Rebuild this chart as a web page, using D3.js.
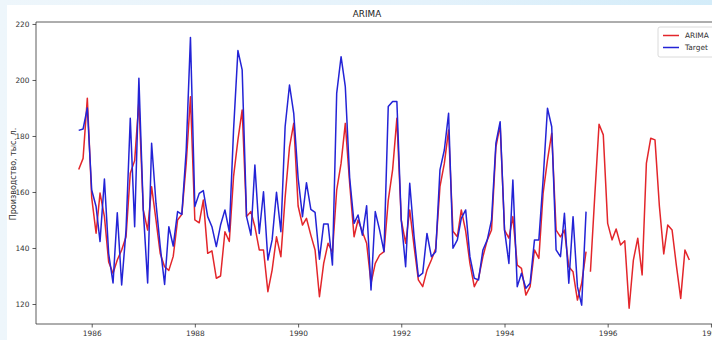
<!DOCTYPE html>
<html>
<head>
<meta charset="utf-8">
<script src="https://cdn.jsdelivr.net/npm/d3@7"></script>
<style>
  html, body { margin: 0; padding: 0; }
  body { width: 712px; height: 340px; overflow: hidden; background: linear-gradient(to right, #eef6fb 0%, #e4f2fb 60%, #d3ecf9 100%); }
  svg { display: block; }
</style>
</head>
<body>
<svg id="chart" width="712" height="340"></svg>
<script>
// ---- data (monthly, first month = Oct 1985) ----
const titleText = "ARIMA";
const yLabel = "Производство, тыс. л.";
const seriesNames = ["ARIMA", "Target"];
const fitStart = [1985, 9];      // year, month index (0 = Jan)
const forecastStart = [1995, 8];
const targetValues = [
  182, 182.5, 190,
  160.7, 154.8, 142.3, 164.6, 138, 127.5, 152.6, 126.8, 146.4, 186.3, 147.6, 200.6,
  153.6, 127.5, 177.4, 156, 140.5, 127, 147.6, 140.7, 153, 152, 175, 215.2,
  154.8, 159.5, 160.5, 151.2, 147.6, 140.5, 148.2, 153.6, 145.8, 182.1, 210.5, 203.6,
  151.2, 144.6, 169.6, 145.2, 160.1, 135.7, 142.9, 159.9, 145.8, 183.3, 198.2, 188.1,
  165, 151.2, 163.3, 153.8, 152.7, 136, 148.6, 148.6, 133.9, 195.2, 208.3, 197.6,
  165, 148.8, 151.8, 144.6, 155.1, 125, 153, 146.4, 138.7, 190.5, 192.3, 192.3,
  150, 133.3, 163.1, 144, 129.8, 131, 145.2, 136.9, 138.7, 167.9, 175, 188.1,
  139.9, 142.9, 150.6, 153.6, 136.9, 129.2, 128.6, 139.3, 142.9, 150, 177.4, 185.1,
  146.4, 134.5, 164.3, 126.2, 131, 125.6, 127.4, 142.9, 142.9, 164.3, 189.9, 183.3,
  139.3, 136.9, 152.4, 127.4, 151.2, 126.2, 119.6, 153
];
const arimaFitValues = [
  168, 172, 193.5,
  158, 145.3, 159.6, 151.2, 135, 131, 135.7, 139.3, 144, 166.7, 171.2, 192.3,
  153.6, 146.4, 161.9, 150, 138, 133.3, 132, 137, 150, 152, 170.2, 194,
  150, 149, 157.1, 138.1, 139, 129.2, 130, 145.8, 142.3, 165.5, 178.6, 189.3,
  151.2, 153, 147.6, 139.3, 139.3, 124.4, 132.1, 144, 136.9, 158, 176, 184.5,
  155, 148.2, 150.6, 144.6, 139.3, 122.6, 134.5, 141.7, 138.4, 160.7, 170.2, 184.5,
  163, 144, 150, 145.8, 141.7, 127.4, 134.5, 137.5, 138.7, 157, 168, 186.3,
  150, 141.7, 153.6, 140.5, 128.6, 126.2, 132.1, 135.7, 139.8, 161.9, 170.2, 182.1,
  146, 144, 153.6, 146, 134.5, 126.2, 129.2, 136.9, 142.9, 146.4, 176, 184,
  146.4, 143.5, 151.2, 133.9, 132.7, 123.2, 126.2, 139.3, 136.3, 159.5, 171.4, 181,
  146.4, 144, 146.4, 133.3, 131.5, 121.4, 127.4, 138.7
];
const arimaForecastValues = [
  131.5, 158, 184.2, 180.4,
  148.8, 142.9, 146.8, 141.1, 142.6, 118.5, 135.7, 143.5, 130.4, 170.2, 179.2, 178.6,
  155, 137.9, 148.2, 146.4, 133.9, 122, 139.3, 135.7
];
const xTickYears = [1986, 1988, 1990, 1992, 1994, 1996, 1998];
const yTicks = [120, 140, 160, 180, 200, 220];
const xDomainYears = [1984.92, 1998.42];
const yDomain = [112.86, 220.7];

(function () {
  function toSeries(start, values) {
    return values.map((v, i) => ({ date: new Date(start[0], start[1] + i, 1), value: v }));
  }
  function yearFrac(yv) {
    const whole = Math.floor(yv);
    const d0 = new Date(whole, 0, 1), d1 = new Date(whole + 1, 0, 1);
    return new Date(d0.getTime() + (yv - whole) * (d1 - d0));
  }
  const target = toSeries(fitStart, targetValues);
  const arimaFit = toSeries(fitStart, arimaFitValues);
  const arimaFc = toSeries(forecastStart, arimaForecastValues);

  const svg = d3.select("#chart");
  const pL = 36, pT = 22, pB = 324, pR = 732.6;
  const colRed = "#e3262b", colBlue = "#2323d6";
  const font = "DejaVu Sans, sans-serif";

  svg.append("rect").attr("x", 7).attr("y", 5).attr("width", 705).attr("height", 335).attr("fill", "#ffffff");

  const x = d3.scaleTime().domain(xDomainYears.map(yearFrac)).range([pL, pR]);
  const y = d3.scaleLinear().domain(yDomain).range([pB, pT]);
  const line = d3.line().x(d => x(d.date)).y(d => y(d.value));

  const plot = svg.append("g");
  [[arimaFit, colRed], [target, colBlue], [arimaFc, colRed]].forEach(([data, c]) => {
    plot.append("path").datum(data).attr("d", line).attr("fill", "none")
      .attr("stroke", c).attr("stroke-width", 1.5).attr("stroke-linejoin", "round");
  });

  const xAxis = d3.axisBottom(x).tickValues(xTickYears.map(yr => new Date(yr, 0, 1)))
    .tickFormat(d3.timeFormat("%Y")).tickSize(3.5).tickPadding(3);
  const gx = svg.append("g").attr("transform", `translate(0,${pB})`).call(xAxis);
  const yAxis = d3.axisLeft(y).tickValues(yTicks).tickSize(3.5).tickPadding(3);
  const gy = svg.append("g").attr("transform", `translate(${pL},0)`).call(yAxis);
  [gx, gy].forEach(g => {
    g.select(".domain").remove();
    g.selectAll(".tick line").attr("stroke", "#333").attr("stroke-width", 0.8);
    g.selectAll(".tick text").attr("fill", "#333").style("font-family", font).style("font-size", "7.4px");
  });

  svg.append("line").attr("x1", pL).attr("x2", pL).attr("y1", pT).attr("y2", pB).attr("stroke", "#333").attr("stroke-width", 0.8);
  svg.append("line").attr("x1", pL).attr("x2", pR).attr("y1", pB).attr("y2", pB).attr("stroke", "#333").attr("stroke-width", 0.8);
  svg.append("line").attr("x1", pL).attr("x2", pR).attr("y1", pT).attr("y2", pT).attr("stroke", "#333").attr("stroke-width", 0.8);

  svg.append("text").attr("x", 367).attr("y", 17).attr("text-anchor", "middle")
    .style("font-family", font).style("font-size", "8.8px").attr("fill", "#222").text(titleText);

  svg.append("text").attr("transform", `translate(16,${(pT + pB) / 2 + 1}) rotate(-90)`).attr("text-anchor", "middle")
    .style("font-family", font).style("font-size", "8px").attr("fill", "#333").text(yLabel);

  const lg = svg.append("g").attr("transform", "translate(658,27)");
  lg.append("rect").attr("x", 0).attr("y", 0).attr("width", 70).attr("height", 30).attr("rx", 2)
    .attr("fill", "#fff").attr("stroke", "#d0d0d0").attr("stroke-width", 0.8);
  const legendColors = [colRed, colBlue];
  seriesNames.forEach((nm, i) => {
    const yy = 8.5 + i * 12;
    lg.append("line").attr("x1", 5).attr("x2", 21).attr("y1", yy).attr("y2", yy).attr("stroke", legendColors[i]).attr("stroke-width", 1.5);
    lg.append("text").attr("x", 27).attr("y", yy + 2.7).style("font-family", font).style("font-size", "7.4px").attr("fill", "#333").text(nm);
  });
})();
</script>
</body>
</html>
